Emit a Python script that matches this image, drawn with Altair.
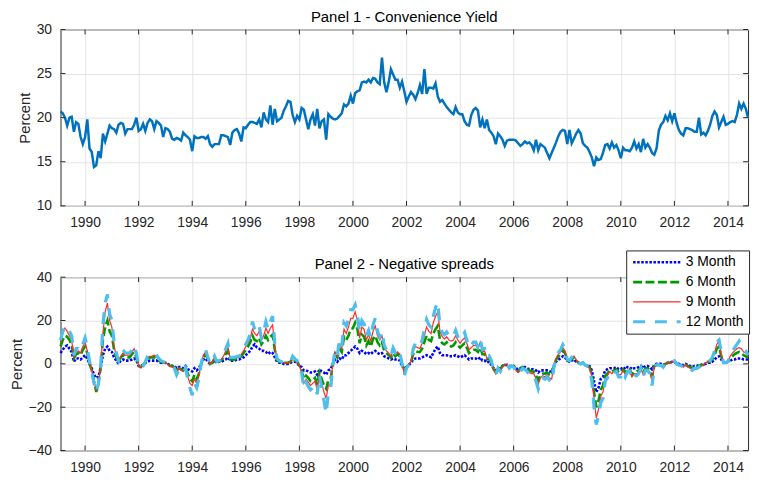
import altair as alt
import pandas as pd

FONT = "Liberation Sans"
START_YEAR, START_MONTH = 1989, 2

# Panel 1 - convenience yield (monthly, Feb 1989 - Oct 2014)
convenience_yield = [
    20.7, 20.5, 20.0, 19.1, 20.0, 20.1, 18.4, 19.5, 19.3, 17.8, 17.0,
    17.8, 19.8, 16.5, 16.1, 14.4, 14.6, 16.2, 15.4, 18.2, 17.3, 18.2, 19.1,
    18.8, 18.7, 18.3, 19.2, 19.4, 19.3, 18.2, 18.7, 18.7, 18.7, 19.2, 20.0,
    18.5, 18.7, 19.3, 18.5, 19.4, 19.8, 19.6, 18.7, 19.6, 19.4, 19.1, 17.8,
    18.8, 18.7, 18.4, 17.6, 17.5, 17.7, 17.6, 17.4, 18.3, 18.0, 17.8, 17.5,
    16.2, 17.9, 17.7, 17.7, 17.8, 17.8, 17.6, 17.9, 17.0, 16.7, 17.0, 17.0,
    17.0, 18.0, 18.0, 17.9, 17.8, 16.9, 18.3, 18.6, 18.7, 18.2, 17.3, 18.9,
    18.8, 19.2, 19.5, 19.5, 19.4, 19.3, 19.8, 18.9, 20.6, 19.8, 19.5, 21.4,
    19.2, 21.0, 19.6, 19.8, 20.0, 20.8, 21.3, 21.9, 21.8, 20.3, 19.5, 20.2,
    19.8, 21.1, 20.9, 19.8, 18.7, 19.8, 20.4, 19.1, 21.0, 18.8, 19.6, 19.8,
    17.5, 20.4, 20.1, 19.9, 19.8, 19.9, 20.2, 20.5, 21.5, 21.3, 21.6, 22.5,
    21.6, 22.8, 23.0, 23.1, 24.0, 24.1, 24.0, 24.3, 24.0, 24.5, 24.4, 24.0,
    23.8, 26.8, 24.0, 22.9, 24.0, 25.5, 24.9, 24.3, 24.3, 23.4, 24.1, 23.0,
    21.8, 22.4, 22.9, 22.6, 22.1, 22.8, 23.7, 22.7, 25.5, 22.7, 23.4, 23.4,
    23.3, 23.9, 22.4, 21.8, 22.0, 21.6, 21.2, 20.9, 20.6, 20.4, 21.2, 20.6,
    20.4, 20.4, 19.6, 19.2, 19.1, 20.3, 20.9, 21.1, 20.8, 18.9, 19.8, 18.8,
    19.8, 18.6, 18.3, 17.9, 17.0, 18.2, 17.9, 17.5, 16.8, 17.4, 17.5, 17.5,
    17.5, 17.4, 17.1, 16.8, 17.0, 17.3, 17.1, 17.2, 16.9, 16.3, 17.5, 16.3,
    17.0, 16.8, 16.6, 16.0, 15.4, 16.0, 16.6, 17.2, 17.9, 18.4, 18.6, 18.5,
    17.0, 18.6, 17.1, 17.6, 18.2, 18.6, 18.2, 17.1, 16.8, 16.6, 16.1, 15.5,
    14.5, 15.5, 15.2, 15.3, 16.0, 16.9, 17.0, 16.5, 17.2, 16.6, 16.9, 16.3,
    15.4, 16.6, 16.3, 16.3, 16.2, 16.6, 17.3, 16.5, 17.0, 16.1, 17.6, 16.6,
    17.0, 16.6, 16.0, 15.8, 16.5, 18.5, 19.2, 19.5, 20.2, 19.7, 20.5, 19.6,
    20.5, 19.4, 18.6, 18.2, 18.0, 18.8, 18.8, 18.7, 18.6, 18.4, 18.4, 20.0,
    18.1, 18.3, 18.0, 18.5, 19.2, 20.2, 20.7, 20.3, 18.9, 19.5, 20.1, 19.2,
    19.3, 19.5, 19.6, 19.5, 20.3, 21.6, 21.0, 21.6, 21.0, 20.0,
]

# Panel 2 - negative spreads (monthly, Feb 1989 - Oct 2014)
spread_3m = [
    5, 6.5, 8, 8.5, 7, 5.5, 1, 2.5, 2.5, 2, 3,
    4, 2.5, 0, -2, -5, -6.5, -6, -1.5, 4, 7, 8, 6,
    5.5, 3, 1.5, 0, 1.5, 2, 1.5, 1.5, 1.5, 2, 2.5, 1.5,
    -1, -1, -0.5, 0.5, 1, 1.5, 1.5, 1.5, 1.5, 1, 0.5, 0.5,
    0.5, 0, -0.5, -1, -1, -2, -1.5, -1.5, -2, -1, -2.5, -3,
    -3.5, -2, -3, -2, 0, 2, 2.5, 1, 0, 0.5, 1.5, 0.5,
    1, 1, 1.5, 2, 3, 1.5, 1.5, 1.5, 2, 2, 2.5, 3,
    4, 5, 6, 8, 9, 7.5, 7, 6, 6, 5.5, 4.5, 5.5,
    5, 3, 1, 0.5, 0.5, 0, 0, 0, 0.5, 1, 1, 0.5,
    -1, -1.5, -3, -3, -3.5, -4, -4, -3.5, -5, -2.5, -3.5, -4,
    -5, -3, -2.5, 0, 2, 1, 2.5, 2, 4, 4, 5, 6,
    7, 8, 7, 5, 6, 5.5, 4.5, 5, 4.5, 5.5, 6, 5,
    4.5, 5, 3.5, 3, 2.5, 2, 2.5, 2, 2, 1.5, -1, -2,
    -1.5, -0.5, 0.5, 2, 2.5, 2.5, 2.5, 3, 3.5, 4, 3.5, 3,
    5, 7, 8, 5, 4, 4, 4, 3.5, 3.5, 3.5, 4, 3.5,
    3, 3.5, 4, 3, 2, 2.5, 2.5, 2.5, 2, 3, 1.5, 1.5,
    0.5, 1, -0.5, -2, -3, -2, -2, -1, -0.5, -0.5, -1, -1,
    -1, -2, -2.5, -2, -1.5, -1.5, -2, -2.5, -2.5, -2.5, -3, -4,
    -3, -3, -3, -3, -3.5, -3.5, -1, 1, 2, 2.5, 3.5, 3,
    1.5, 1, 1.5, 2, 1, 0.5, 0, 0.5, -0.5, -1, -1, -3,
    -8, -13, -11, -7, -6, -3, -2.5, -2, -2, -2, -1.5, -2.5,
    -2.5, -1.5, -2.5, -1.5, -1.5, -2.5, -2, -2, -1.5, -1, -2, -1,
    -1, -1.5, -2.5, -0.5, 0, 0, 0, -0.5, 0, 0.5, 0.5, 1,
    1, 0, 0, -0.5, -0.5, 0, -0.5, -1, -1.5, -1, -1, -0.5,
    -0.5, 0, 0, 0.5, 0.5, 1, 2, 3, 3.5, 2, 0.5, 0.5,
    1, 1.5, 2, 2, 2.5, 2.5, 2.5, 2, 2, 2,
]
spread_6m = [
    8, 11, 13, 12.5, 11, 9, 2.5, 4.5, 5, 4, 6.5,
    8, 5, 0, -3, -8, -13, -9, -1.5, 11, 17, 20, 15,
    13, 6.5, 3, 0.5, 3, 4, 3, 3, 3, 4.5, 5.5, 3,
    -1, -1.5, -0.5, 0.5, 2.5, 3, 3, 3, 2.5, 1.5, 1, 0.5,
    0.5, 0, -1, -1, -1.5, -3.5, -2, -2.5, -3, -1.5, -4.5, -7,
    -8, -5, -7, -4.5, 0, 3, 4.5, 2, 0, 0.5, 2.5, 1,
    1, 1.5, 3, 4.5, 6, 2, 2, 2, 2.5, 2.5, 3.5, 5,
    6.5, 8, 10, 13, 11, 10.5, 12, 9, 10.5, 13, 11, 12.5,
    13.5, 6.5, 1.5, 1, 0.5, 0.5, 0.5, 0.5, 1, 2.5, 1.5, 1,
    -1, -3, -7, -5.5, -6.5, -8, -7.5, -6.5, -9.5, -4, -7, -10,
    -11.5, -7.5, -7, 0, 4.5, 3, 7, 5.5, 12.5, 11, 13, 16,
    16.5, 19, 16, 9.5, 13.5, 12.5, 8.5, 10.5, 8, 11.5, 13, 10,
    8.5, 10, 6, 5, 4, 3, 5, 3.5, 4.5, 3.5, 0, -3.5,
    -1.5, -0.5, 1, 4.5, 6, 5.5, 5.5, 7, 10, 13, 11, 10.5,
    14, 16, 17.5, 11, 9.5, 9, 10, 8.5, 8, 8.5, 10, 8.5,
    7.5, 8.5, 9.5, 7.5, 5, 6, 6.5, 6.5, 5.5, 7.5, 4.5, 4.5,
    2, 2.5, 0.5, -2.5, -4, -2, -2.5, -1, -0.5, 0, -1.5, -1,
    -1, -2.5, -3.5, -2.5, -1.5, -2, -2.5, -3, -3.5, -3.5, -5.5, -7.5,
    -5, -4.5, -4.5, -4, -5, -5.5, -1, 2, 3.5, 4.5, 6, 5,
    1.5, 1.5, 2, 3, 1.5, 0.5, 0, 0.5, -0.5, -1, -1.5, -5,
    -13, -20, -17, -12, -10, -5.5, -4.5, -3, -3.5, -3, -2.5, -4,
    -4, -2.5, -4, -2.5, -2.5, -5, -3.5, -3.5, -3, -1.5, -4, -2,
    -2, -3, -6, -1, -0.5, -0.5, -0.5, -1, 0, 0.5, 0.5, 1,
    1, 0, -0.5, -0.5, -1, -0.5, -1, -1.5, -2, -1.5, -1.5, -1,
    -0.5, -0.5, 0.5, 1, 1, 2, 4, 7, 8, 3.5, 0.5, 0.5,
    1, 2.5, 3.5, 4.5, 5, 5.5, 5, 4, 3.5, 3,
]
spread_9m = [
    10, 14, 16.5, 15, 13, 11, 3, 5.5, 6, 5, 8,
    10, 6, 0, -3, -8, -12, -8.5, -1, 14, 24, 28, 20,
    17, 8, 4, 1, 3.5, 5, 4, 4, 4, 5.5, 7, 4,
    -1, -1.5, -0.5, 1, 3, 3.5, 3.5, 4, 3.5, 2, 1.5, 1,
    0.5, 0, -1, -1.5, -2, -4, -2, -3, -3.5, -2, -6, -9,
    -10, -7, -9, -5.5, 0, 4, 5.5, 2.5, 0, 1, 3, 1,
    1, 2, 3.5, 6, 7.5, 2.5, 2.5, 2.5, 3, 3, 4.5, 6,
    8, 9.5, 12, 16, 14, 13, 15, 11, 13, 16.5, 14, 16.5,
    18, 8, 2, 1, 1, 0.5, 0.5, 0.5, 1, 3, 2, 1,
    -1, -3.5, -9, -7, -8.5, -10, -9, -8, -12, -5, -9, -13,
    -16, -10, -9, 0, 5.5, 3.5, 9, 7, 16, 14, 17, 21,
    21, 24, 20, 12, 17, 16, 11, 13.5, 10.5, 15, 17.5, 13,
    11, 13, 7.5, 6, 5, 3.5, 6, 4.5, 5.5, 4.5, 0, -4.5,
    -2, -0.5, 1, 6, 8, 7.5, 7, 9.5, 13, 17, 15, 14,
    19, 22, 24, 15, 12.5, 11.5, 12.5, 11, 10.5, 11, 13, 11,
    9.5, 11, 12, 9.5, 6.5, 7.5, 8.5, 8.5, 7, 10, 5.5, 6,
    2.5, 3, 1, -2.5, -4.5, -2, -3, -1.5, -0.5, 0, -2, -1,
    -1.5, -3, -4, -3, -2, -2, -3, -4, -4.5, -4.5, -7, -9.5,
    -6.5, -5.5, -6, -5, -6.5, -7, -1.5, 2.5, 4.5, 5.5, 7.5, 6,
    2, 1.5, 2.5, 3.5, 2, 0.5, 0, 0.5, -0.5, -1, -2, -6,
    -16, -25, -21, -15, -13, -7, -5.5, -3.5, -4.5, -3.5, -3, -5,
    -5, -3, -5, -3, -3, -6, -4.5, -4.5, -4, -2, -5, -2.5,
    -2.5, -4, -8, -1.5, -0.5, -0.5, -0.5, -1.5, 0, 0.5, 0.5, 1,
    1, 0, -0.5, -0.5, -1.5, -0.5, -1.5, -2, -2.5, -2, -2, -1.5,
    -1, -0.5, 0.5, 1, 1.5, 2.5, 5, 9, 10.5, 4.5, 0.5, 0.5,
    1, 3.5, 5, 6, 7, 7.5, 7, 5.5, 5, 3.5,
]
spread_12m = [
    11, 15, 17.5, 16, 15, 13, 4, 7, 7, 6, 9,
    12, 8, 1, -3.5, -9, -13, -9, -1, 18, 28, 32, 23,
    20, 10, 5, 1.5, 4.5, 6.5, 5, 5, 5, 6.5, 8.5, 5,
    -1, -2, -1, 1, 3.5, 4.5, 4.5, 4.8, 4, 2.5, 1.5, 1,
    0.5, 0, -1, -1.5, -2, -5, -2.5, -3.5, -4, -2, -7, -11,
    -14.5, -9, -11, -7, 0, 4.5, 6.5, 3, 0, 1, 3.5, 1,
    1.5, 2, 4, 7, 9.5, 3, 3, 3, 3.5, 3.5, 5, 7.5,
    9, 11, 14, 19.5, 16, 15, 17.5, 12, 15, 19.5, 16, 19.5,
    22, 9, 2.5, 1.5, 1, 0.5, 0.5, 0.5, 1, 3.5, 2.3, 1.5,
    -0.7, -4, -11, -8.5, -10.5, -12, -11, -10, -14, -5.5, -11, -16.8,
    -23, -13, -11.5, -0.5, 6.5, 4, 11, 8, 19, 17.5, 20.6, 25,
    25, 27.2, 22.8, 14.5, 20, 18.5, 13, 15.5, 12, 18, 21, 15,
    12.5, 15, 8.5, 6.7, 5.5, 3.7, 7.4, 5.2, 6.7, 5.2, 0, -5.5,
    -2, -0.5, 1.5, 7, 9.5, 8.5, 8, 11, 16, 20.5, 18, 17,
    22, 26, 28.5, 17, 14.5, 13.5, 14.7, 13, 12, 13, 15.5, 12.5,
    11, 13, 14.5, 11, 7.5, 8.5, 10, 10, 8, 11.8, 6.5, 7,
    3, 3.7, 1.5, -3, -5, -2, -3.5, -1.5, -0.7, 0, -2, -1,
    -1.5, -3.5, -5, -3.5, -2, -2.5, -3.5, -5, -5, -5, -8, -11.5,
    -7.5, -6.5, -7, -6, -7.5, -8.5, -2, 3, 5.2, 6.5, 8.9, 7,
    2, 1.5, 3, 4, 2, 0.5, 0, 0.5, -0.5, -1, -2.5, -8,
    -20, -28, -24, -18, -16, -8, -6.5, -4, -5, -4, -3.5, -6,
    -6, -3.5, -6, -3.5, -3.5, -7, -5, -5.5, -4.5, -2, -6, -3,
    -3, -4.5, -10, -1.5, -0.5, -0.5, -0.7, -1.5, 0, 0.5, 0.8, 1.5,
    1.5, 0, -0.5, -0.8, -1.5, -0.7, -1.5, -2.2, -3, -2, -2.2, -1.5,
    -1, -0.5, 0.5, 1.5, 1.5, 3, 6, 10, 11, 5.5, 0.5, 0.5,
    1, 4.5, 6, 7.5, 9, 10.5, 8.5, 7, 6, 4,
]

series_names = ["3 Month", "6 Month", "9 Month", "12 Month"]
series_values = [spread_3m, spread_6m, spread_9m, spread_12m]
series_colors = ["#0000ff", "#009a00", "#ff2b2b", "#4dbeee"]
series_dashes = [[2.5, 1.6], [9, 3.5], [1, 0], [12, 10]]
series_widths = [2.6, 2.6, 1.2, 3.2]

year_ticks = list(range(1990, 2015, 2))
p1_ticks = [10, 15, 20, 25, 30]
p2_ticks = [-40, -20, 0, 20, 40]

n = len(convenience_yield)
t = [START_YEAR + (START_MONTH - 1 + i) / 12 for i in range(n)]
x_domain = [t[0], t[-1]]

df1 = pd.DataFrame({"t": t, "value": convenience_yield})
rows = []
for name, vals in zip(series_names, series_values):
    for ti, v in zip(t, vals):
        rows.append({"t": ti, "value": v, "series": name})
df2 = pd.DataFrame(rows)

W = 694
H1, H2 = 178, 175
AX = "#262626"
GRID = "#e4e4e4"

X_AXIS = alt.Axis(values=year_ticks, format="d", title=None, grid=True,
                  gridColor=GRID, ticks=False, domain=False, labelPadding=10,
                  labelFontSize=14, labelColor=AX, labelFont=FONT)


def y_axis(vals):
    return alt.Axis(values=vals, title="Percent", grid=True, gridColor=GRID,
                    ticks=False, domain=False, labelPadding=9, labelFontSize=14,
                    labelColor=AX, labelFont=FONT, titleFontSize=15,
                    titleFontWeight="normal", titleColor=AX, titleFont=FONT,
                    titlePadding=4)


def xs():
    return alt.Scale(domain=x_domain, nice=False, zero=False)


def ys(dom):
    return alt.Scale(domain=dom, nice=False, zero=False)


def tick_layers(yticks, ydom, h, yax):
    xt = pd.DataFrame({"x": year_ticks})
    yt = pd.DataFrame({"y": yticks})
    rule = dict(color=AX, strokeWidth=1)
    bottom = alt.Chart(xt).mark_rule(**rule).encode(
        x=alt.X("x:Q", scale=xs(), axis=X_AXIS), y=alt.value(h), y2=alt.value(h - 5))
    top = alt.Chart(xt).mark_rule(**rule).encode(
        x=alt.X("x:Q", scale=xs(), axis=X_AXIS), y=alt.value(0), y2=alt.value(5))
    left = alt.Chart(yt).mark_rule(**rule).encode(
        y=alt.Y("y:Q", scale=ys(ydom), axis=yax), x=alt.value(0), x2=alt.value(5))
    right = alt.Chart(yt).mark_rule(**rule).encode(
        y=alt.Y("y:Q", scale=ys(ydom), axis=yax), x=alt.value(W), x2=alt.value(W - 5))
    return [bottom, top, left, right]


Y1 = y_axis(p1_ticks)
Y2 = y_axis(p2_ticks)

line1 = alt.Chart(df1).mark_line(color="#0072bd", strokeWidth=2.5).encode(
    x=alt.X("t:Q", scale=xs(), axis=X_AXIS),
    y=alt.Y("value:Q", scale=ys([10, 30]), axis=Y1),
)
panel1 = alt.layer(line1, *tick_layers(p1_ticks, [10, 30], H1, Y1)).properties(
    width=W, height=H1,
    title=alt.Title("Panel 1 - Convenience Yield", fontSize=15, fontWeight="normal",
                    color="#000000", font=FONT, offset=-2, frame="group"),
)

legend = alt.Legend(title=None, orient="none", legendX=W - 123, legendY=223,
                    fillColor="white", strokeColor=AX, padding=5,
                    labelFontSize=14, labelColor="#000000", labelFont=FONT,
                    symbolType="M-1,0H8.6", symbolSize=100, rowPadding=6,
                    labelOffset=41, cornerRadius=0)

lines2 = []
for name in series_names:
    lines2.append(
        alt.Chart(df2).transform_filter(alt.datum.series == name).mark_line().encode(
            x=alt.X("t:Q", scale=xs(), axis=X_AXIS),
            y=alt.Y("value:Q", scale=ys([-40, 40]), axis=Y2),
            color=alt.Color("series:N", scale=alt.Scale(domain=series_names, range=series_colors), legend=legend),
            strokeDash=alt.StrokeDash("series:N", scale=alt.Scale(domain=series_names, range=series_dashes), legend=legend),
            strokeWidth=alt.StrokeWidth("series:N", scale=alt.Scale(type="ordinal", domain=series_names, range=series_widths), legend=legend),
        )
    )

panel2 = alt.layer(*lines2, *tick_layers(p2_ticks, [-40, 40], H2, Y2)).properties(
    width=W, height=H2,
    title=alt.Title("Panel 2 - Negative spreads", fontSize=15, fontWeight="normal",
                    color="#000000", font=FONT, offset=-2, frame="group"),
)

chart = alt.vconcat(panel1, panel2, spacing=26).properties(
    padding={"left": 0, "top": -1.5, "right": 0, "bottom": 0}
).configure(font=FONT).configure_view(stroke=AX, strokeWidth=1)

chart.save("out.html", embed_options={"renderer": "svg", "actions": False})
